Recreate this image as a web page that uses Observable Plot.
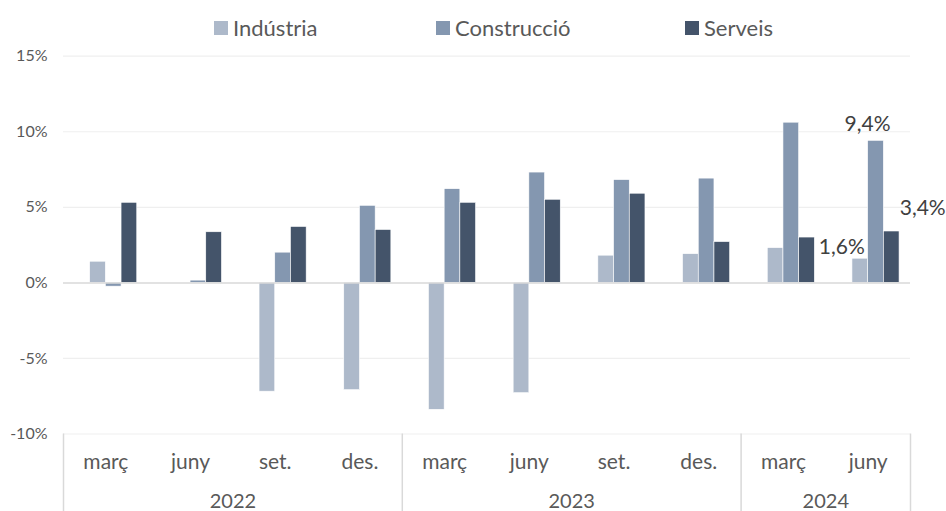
<!DOCTYPE html>
<html>
<head>
<meta charset="utf-8">
<script src="https://cdn.jsdelivr.net/npm/d3@7"></script>
<script src="https://cdn.jsdelivr.net/npm/@observablehq/plot@0.6"></script>
<style>
  body { margin: 0; background: #fff; font-family: Lato, "Open Sans", sans-serif; }
  #legend { position: relative; width: 946px; height: 42px; }
  .item { position: absolute; top: 12.7px; height: 30px; display: flex; align-items: center; font-size: 22px; color: #595959; }
  .sw { width: 14px; height: 14px; margin-right: 5px; }
  #chart svg { display: block; }
</style>
</head>
<body>
<div id="legend"></div>
<div id="chart"></div>
<script>
// ---- data ----
const months = ["març", "juny", "set.", "des.", "març", "juny", "set.", "des.", "març", "juny"];
const years = ["2022", "2023", "2024"];
const yearSpans = [[0, 4], [4, 8], [8, 10]];   // period index ranges of each year
const seriesNames = ["Indústria", "Construcció", "Serveis"];
const seriesColors = ["#adb9ca", "#8497b0", "#44546a"];
const industria   = [1.4, 0, -7.2, -7.1, -8.4, -7.3, 1.8, 1.9, 2.3, 1.6];
const construccio = [-0.25, 0.15, 2.0, 5.1, 6.2, 7.3, 6.8, 6.9, 10.6, 9.4];
const serveis     = [5.3, 3.35, 3.7, 3.5, 5.3, 5.5, 5.9, 2.7, 3.0, 3.4];
const yTicks = [-10, -5, 0, 5, 10, 15];

// ---- build table ----
const values = [industria, construccio, serveis];
const barW = 0.1854;        // bar width as a fraction of a period
const rows = [];
values.forEach((arr, s) => arr.forEach((v, i) => {
  const slot = s + 1;       // first cluster slot is empty (hidden series)
  const x1 = i + 0.5 + (slot - 2) * barW;
  rows.push({ i, series: seriesNames[s], value: v, x1, x2: x1 + barW });
}));
const last = months.length - 1;
const labelRows = rows.filter(d => d.i === last);
const fmt = v => String(v).replace(".", ",") + "%";
const labelOffsets = {
  "Indústria": { dx: -18.5, dy: -11.5 },
  "Construcció": { dx: -8.5, dy: -17 },
  "Serveis": { dx: 31, dy: -23 }
};

// ---- legend ----
const legend = document.getElementById("legend");
const legendLeft = [214, 436, 685];
seriesNames.forEach((n, k) => {
  const it = document.createElement("div");
  it.className = "item";
  it.style.left = legendLeft[k] + "px";
  it.innerHTML = `<span class="sw" style="background:${seriesColors[k]}"></span><span>${n}</span>`;
  legend.appendChild(it);
});

// ---- chart ----
const chart = Plot.plot({
  width: 946,
  height: 469,
  marginTop: 13.7,
  marginBottom: 77.5,
  marginLeft: 63,
  marginRight: 36,
  style: { fontFamily: "Lato, 'Open Sans', sans-serif", color: "#595959", background: "#fff" },
  x: { domain: [0, months.length], axis: null },
  y: { domain: [-10, 15], axis: null },
  color: { domain: seriesNames, range: seriesColors },
  marks: [
    Plot.gridY(yTicks.filter(t => t !== 0), { stroke: "#efefef", strokeOpacity: 1, strokeWidth: 1.2 }),
    Plot.axisY(yTicks, { tickSize: 0, tickPadding: 16, tickFormat: d => d + "%", fontSize: 16, fill: "#595959", label: null }),
    Plot.rectY(rows, { x1: "x1", x2: "x2", y: "value", fill: "series", stroke: "#fff", strokeWidth: 0.6 }),
    Plot.ruleY([0], { stroke: "#d9d9d9", strokeWidth: 1.5 }),
    Plot.axisX([0, ...yearSpans.map(d => d[1])], { tickSize: 77.5, tickFormat: () => "", stroke: "#d9d9d9", strokeWidth: 1.5, label: null }),
    Plot.axisX(months.map((m, i) => i + 0.5), { tickSize: 0, tickPadding: 20, tickFormat: (d, i) => months[i], fontSize: 21, fill: "#595959", label: null }),
    Plot.axisX(yearSpans.map(([a, b]) => (a + b) / 2), { tickSize: 0, tickPadding: 60, tickFormat: (d, i) => years[i], fontSize: 20, fill: "#595959", label: null }),
    ...seriesNames.map(n => Plot.text(labelRows.filter(d => d.series === n), {
      x: d => (d.x1 + d.x2) / 2, y: "value", text: d => fmt(d.value),
      dx: labelOffsets[n].dx, dy: labelOffsets[n].dy, lineAnchor: "middle",
      fontSize: 21, fill: "#404040"
    }))
  ]
});
document.getElementById("chart").appendChild(chart);
</script>
</body>
</html>
